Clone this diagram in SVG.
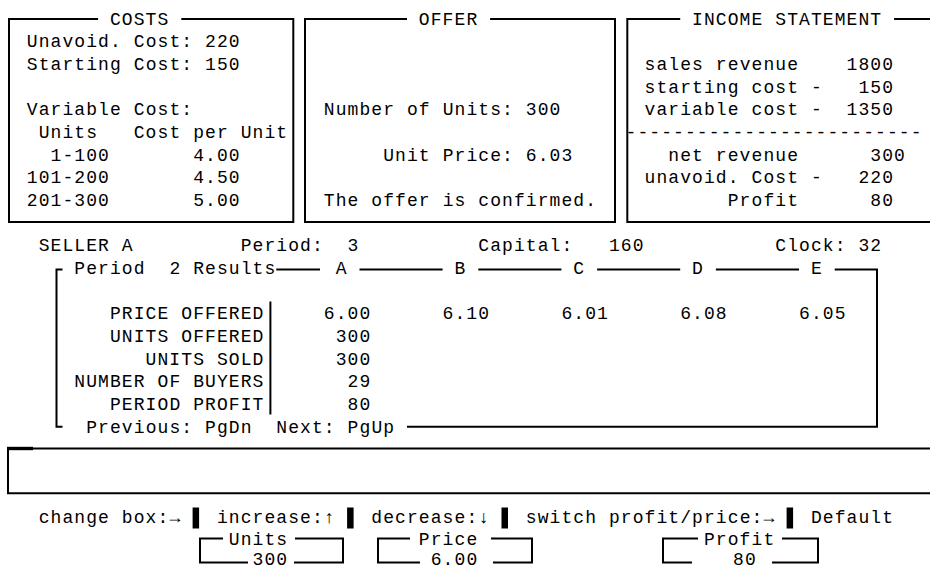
<svg xmlns="http://www.w3.org/2000/svg" width="930" height="568" viewBox="0 0 930 568" xml:space="preserve">
<style>
text { font-family: "Liberation Mono", "DejaVu Sans Mono", monospace; font-size: 18px; letter-spacing: 1.08px; fill: #000; white-space: pre; }
.ln { stroke: #000; stroke-width: 2; fill: none; }
.blk { fill: #000; }
</style>
<rect width="930" height="568" fill="#fff"/>

<g id="costs">
<path class="ln" d="M98.1,19 H9 V222 H293.3 V19 H181.3"/>
<text x="109.98" y="24.5">COSTS</text>
<text x="26.82" y="47.2">Unavoid. Cost: 220</text>
<text x="26.82" y="69.8">Starting Cost: 150</text>
<text x="26.82" y="115.2">Variable Cost:</text>
<text x="38.7" y="137.9">Units   Cost per Unit</text>
<text x="26.82" y="160.5">  1-100       4.00</text>
<text x="26.82" y="183.2">101-200       4.50</text>
<text x="26.82" y="205.9">201-300       5.00</text>
</g>

<g id="offer">
<path class="ln" d="M407,19 H305 V222 H615 V19 H490.1"/>
<text x="418.86" y="24.5">OFFER</text>
<text x="323.82" y="115.2">Number of Units: 300</text>
<text x="383.22" y="160.5">Unit Price: 6.03</text>
<text x="323.82" y="205.9">The offer is confirmed.</text>
</g>

<g id="income">
<path class="ln" d="M680.2,19 H627.3 V222 H935 M894.1,19 H935"/>
<text x="692.1" y="24.5">INCOME STATEMENT</text>
<text x="644.58" y="69.8">sales revenue    1800</text>
<text x="644.58" y="92.5">starting cost -   150</text>
<text x="644.58" y="115.2">variable cost -  1350</text>
<text x="625.5" y="137.9">-------------------------</text>
<text x="668.34" y="160.5">net revenue      300</text>
<text x="644.58" y="183.2">unavoid. Cost -   220</text>
<text x="727.74" y="205.9">Profit      80</text>
</g>

<g id="status">
<text x="38.7" y="251.2">SELLER A</text>
<text x="240.66" y="251.2">Period:  3</text>
<text x="478.26" y="251.2">Capital:   160</text>
<text x="775.26" y="251.2">Clock: 32</text>
</g>

<g id="results">
<path class="ln" d="M62.5,269.5 H56.5 V426.7 H62.5"/>
<path class="ln" d="M276.3,269.5 H320 M359.5,269.5 H442.6 M478.3,269.5 H561.4 M597.1,269.5 H680.2 M715.9,269.5 H799 M834.7,269.5 H877 V426.7 H407"/>
<path class="ln" d="M270.4,301.5 V414.5"/>
<text x="74.34" y="273.9">Period  2 Results</text>
<text x="335.7" y="273.9">A</text>
<text x="454.5" y="273.9">B</text>
<text x="573.3" y="273.9">C</text>
<text x="692.1" y="273.9">D</text>
<text x="810.9" y="273.9">E</text>
<text x="109.98" y="319.2">PRICE OFFERED</text>
<text x="109.98" y="341.9">UNITS OFFERED</text>
<text x="145.62" y="364.6">UNITS SOLD</text>
<text x="74.34" y="387.2">NUMBER OF BUYERS</text>
<text x="109.98" y="409.9">PERIOD PROFIT</text>
<text x="323.82" y="319.2">6.00</text>
<text x="442.62" y="319.2">6.10</text>
<text x="561.42" y="319.2">6.01</text>
<text x="680.22" y="319.2">6.08</text>
<text x="799.02" y="319.2">6.05</text>
<text x="335.7" y="341.9">300</text>
<text x="335.7" y="364.6">300</text>
<text x="347.58" y="387.2">29</text>
<text x="347.58" y="409.9">80</text>
<text x="86.22" y="432.6">Previous: PgDn  Next: PgUp</text>
</g>

<g id="input-box">
<path class="ln" d="M940,448.5 H8 V493.3 H940"/>
<rect class="blk" x="7" y="446.8" width="26" height="3.4"/>
</g>

<g id="help">
<text x="38.7" y="523.2">change box:→</text>
<rect class="blk" x="192.6" y="507.5" width="6.5" height="21"/>
<text x="216.9" y="523.2">increase:↑</text>
<rect class="blk" x="347.1" y="507.5" width="6.5" height="21"/>
<text x="371.34" y="523.2">decrease:↓</text>
<rect class="blk" x="501.5" y="507.5" width="6.5" height="21"/>
<text x="525.78" y="523.2">switch profit/price:→</text>
<rect class="blk" x="786.6" y="507.5" width="6.5" height="21"/>
<text x="810.9" y="523.2">Default</text>
</g>

<g id="units-box">
<path class="ln" d="M223,538.5 H200 V562.5 H248 M294,562.5 H343 V538.5 H295"/>
<text x="228.78" y="545.4">Units</text>
<text x="252.54" y="564.8">300</text>
</g>

<g id="price-box">
<path class="ln" d="M410,538.5 H378 V562.5 H420 M493,562.5 H532 V538.5 H491"/>
<text x="418.86" y="545.4">Price</text>
<text x="430.74" y="564.8">6.00</text>
</g>

<g id="profit-box">
<path class="ln" d="M698,538.5 H663 V562.5 H692 M772,562.5 H818 V538.5 H782"/>
<text x="703.98" y="545.4">Profit</text>
<text x="733" y="564.8">80</text>
</g>
</svg>
